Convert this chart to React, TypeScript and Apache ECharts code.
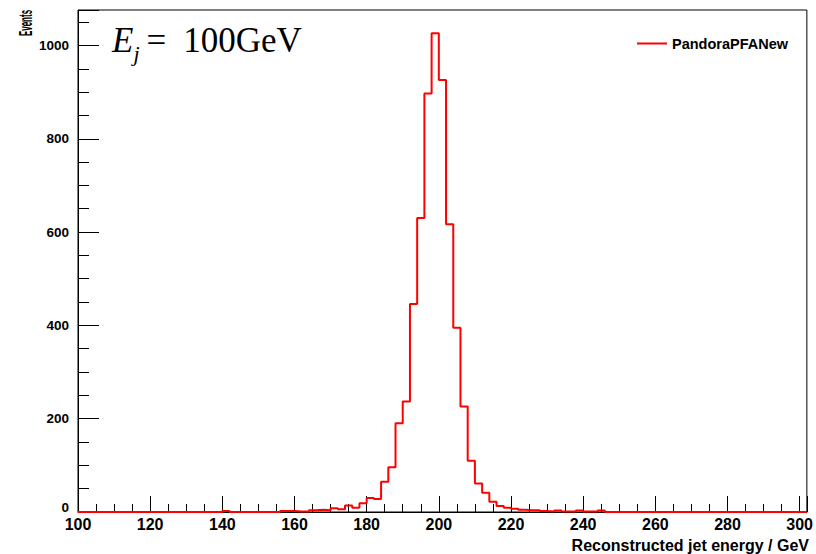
import React, { useEffect, useRef } from "react";
import * as echarts from "echarts";

const binStart = 100;
const binWidth = 2;
const counts: number[] = [
  0, 0, 0, 0, 0, 0, 0, 0, 0, 0, 0, 0, 0, 0, 0, 0, 0, 0, 0, 0,
  2,
  0, 0, 0, 0, 0, 0, 0,
  2, 2, 1, 1, 4, 5, 4, 8, 6, 14, 9, 19, 30, 28, 65, 96, 190, 237, 446, 630,
  897, 1026, 926, 617, 395, 226, 110, 61, 41, 22, 13, 9, 7, 5, 4, 4, 2, 1, 3,
  1, 1, 3, 1, 1, 3,
  0, 0, 0, 0, 0, 0, 0, 0, 0, 0, 0, 0, 0, 0, 0, 0, 0, 0, 0, 0, 0, 0, 0, 0, 0,
  0, 0, 0,
];
const seriesName = "PandoraPFANew";
const xTitle = "Reconstructed jet energy / GeV";
const yTitle = "Events";
const xMin = 100;
const xMax = 302;
const yMin = 0;
const yMax = 1076;

export default function App() {
  const ref = useRef<HTMLDivElement>(null);
  useEffect(() => {
    if (!ref.current) return;
    const chart = echarts.init(ref.current, null, { renderer: "svg" });
    const pts: [number, number][] = counts.map((c, i) => [binStart + i * binWidth, c]);
    pts.push([binStart + counts.length * binWidth, counts[counts.length - 1]]);
    const sans = "Liberation Sans";
    const serif = "Liberation Serif";
    chart.setOption({
      animation: false,
      backgroundColor: "#ffffff",
      grid: {
        left: 78,
        top: 10,
        right: 6,
        bottom: 42,
        show: true,
        borderColor: "#000",
        borderWidth: 1,
        backgroundColor: "transparent",
      },
      legend: {
        left: 632,
        top: 31,
        itemWidth: 30,
        itemHeight: 2,
        icon: "rect",
        data: [{ name: seriesName, icon: "rect" }],
        textStyle: { fontFamily: sans, fontWeight: "bold", fontSize: 14.5, color: "#000" },
      },
      xAxis: [
        {
          type: "value",
          min: xMin,
          max: xMax,
          interval: 20,
          position: "bottom",
          axisLine: { show: true, onZero: false, lineStyle: { color: "#000", width: 1 } },
          axisTick: { show: true, inside: true, length: 16, lineStyle: { color: "#000" } },
          splitLine: { show: false },
          axisLabel: {
            margin: 4,
            fontFamily: sans,
            fontWeight: "bold",
            fontSize: 16,
            color: "#000",
            formatter: (v: number) => (v % 20 === 0 && v <= 300 ? String(v) : ""),
          },
        },
        {
          type: "value",
          min: xMin,
          max: xMax,
          interval: 5,
          position: "bottom",
          axisLine: { show: false },
          axisTick: { show: true, inside: true, length: 8, lineStyle: { color: "#000" } },
          splitLine: { show: false },
          axisLabel: { show: false },
        },
      ],
      yAxis: [
        {
          type: "value",
          min: yMin,
          max: yMax,
          interval: 200,
          position: "left",
          axisLine: { show: true, onZero: false, lineStyle: { color: "#000", width: 1 } },
          axisTick: { show: true, inside: true, length: 21, lineStyle: { color: "#000" } },
          splitLine: { show: false },
          axisLabel: {
            margin: 9,
            fontFamily: sans,
            fontWeight: "bold",
            fontSize: 13.5,
            color: "#000",
            formatter: (v: number) =>
              v === 0 ? "{z|0}" : v % 200 === 0 ? String(v) : "",
            rich: {
              z: {
                fontFamily: sans,
                fontWeight: "bold",
                fontSize: 13.5,
                color: "#000",
                padding: [0, 0, 9, 0],
              },
            },
          },
        },
        {
          type: "value",
          min: yMin,
          max: yMax,
          interval: 50,
          position: "left",
          axisLine: { show: false },
          axisTick: { show: true, inside: true, length: 11, lineStyle: { color: "#000" } },
          splitLine: { show: false },
          axisLabel: { show: false },
        },
      ],
      series: [
        {
          name: seriesName,
          type: "line",
          step: "end",
          xAxisIndex: 0,
          yAxisIndex: 0,
          symbol: "none",
          data: pts,
          lineStyle: { color: "#ff0000", width: 2 },
          itemStyle: { color: "#ff0000" },
          z: 3,
        },
      ],
      graphic: [
        {
          type: "text",
          x: 25,
          y: 23,
          rotation: Math.PI / 2,
          scaleX: 0.42,
          style: {
            text: yTitle,
            fontFamily: sans,
            fontWeight: "bold",
            fontSize: 19,
            fill: "#000",
            align: "center",
            verticalAlign: "middle",
          },
        },
        {
          type: "text",
          x: 809,
          y: 545,
          style: {
            text: xTitle,
            fontFamily: sans,
            fontWeight: "bold",
            fontSize: 16,
            fill: "#000",
            align: "right",
            verticalAlign: "middle",
          },
        },
        {
          type: "text",
          x: 112,
          y: 16,
          style: {
            text: "{e|E}{j|j}{q|=}{r|100GeV}",
            align: "left",
            verticalAlign: "top",
            fill: "#000",
            rich: {
              e: { fontFamily: serif, fontStyle: "italic", fontSize: 35, lineHeight: 48 },
              j: {
                fontFamily: serif,
                fontStyle: "italic",
                fontSize: 22,
                lineHeight: 22,
                verticalAlign: "bottom",
                padding: [0, 7, 0, 0],
              },
              q: { fontFamily: serif, fontSize: 35, lineHeight: 48, padding: [0, 17, 0, 0] },
              r: { fontFamily: serif, fontSize: 35, lineHeight: 48 },
            },
          },
        },
      ],
    });
    return () => chart.dispose();
  }, []);
  return (
    <div
      ref={ref}
      style={{ position: "absolute", left: 0, top: 0, width: 816, height: 554, background: "#fff" }}
    />
  );
}
